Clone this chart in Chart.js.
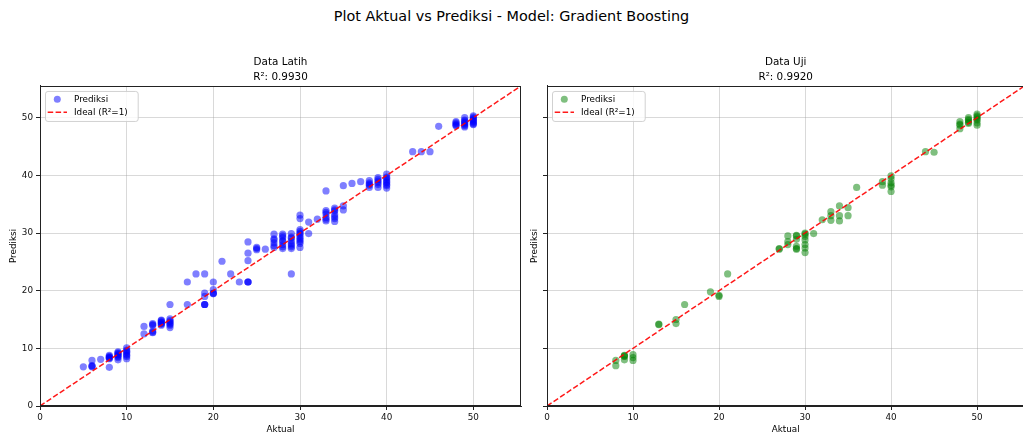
<!DOCTYPE html>
<html>
<head>
<meta charset="utf-8">
<script src="https://cdn.jsdelivr.net/npm/chart.js@4.4.0/dist/chart.umd.min.js"></script>
<style>
html,body{margin:0;padding:0;width:1023px;height:437px;overflow:hidden;background:#fff;}
#suptitle{position:absolute;left:0;top:8px;width:1023px;text-align:center;font-family:"DejaVu Sans";font-size:14.4px;color:#000;line-height:17px;}
#c1{position:absolute;left:0;top:0;}
#c2{position:absolute;left:527px;top:0;}
</style>
</head>
<body>
<div id="suptitle">Plot Aktual vs Prediksi - Model: Gradient Boosting</div>
<canvas id="c1" width="526" height="437"></canvas>
<canvas id="c2" width="501" height="437"></canvas>
<script>
// ---- Data ----
const trainActual = [
  5,
  6,6,6,6,
  7,
  8,8,8,8,8,8,8,
  9,9,9,9,9,9,9,9,
  10,10,10,10,10,10,10,10,
  12,12,
  13,13,13,13,13,13,
  14,14,14,14,14,14,14,
  15,15,15,15,15,15,15,15,
  17,17,
  18,
  19,19,19,19,19,19,
  20,20,20,20,20,
  21,22,23,
  24,24,24,24,24,24,
  25,25,25,26,
  27,27,27,27,27,27,
  28,28,28,28,28,28,28,28,
  29,29,29,29,29,29,29,29,29,
  30,30,30,30,30,30,30,30,30,30,30,30,
  31,31,32,
  33,33,33,33,33,33,33,
  34,34,34,34,34,34,34,
  35,35,35,
  36,37,
  38,38,38,38,38,
  39,39,39,39,39,39,
  40,40,40,40,40,40,40,40,40,
  43,44,45,46,
  48,48,48,48,48,
  49,49,49,49,49,49,49,49,
  50,50,50,50,50,50,50,50,50
];
const trainPred = [
  6.8,
  7.9,6.8,7.0,6.9,
  8.1,
  6.7,8.2,8.5,8.8,8.4,8.6,8.3,
  8.0,8.4,8.8,9.1,9.4,8.6,9.2,8.9,
  8.2,8.6,9.0,9.3,9.7,10.1,9.5,8.8,
  13.8,12.5,
  12.7,13.0,14.0,14.3,14.1,12.8,
  14.0,14.3,14.6,14.9,14.5,14.2,14.8,
  13.6,14.0,14.4,14.8,15.1,17.6,14.6,14.2,
  21.5,17.6,
  22.9,
  22.9,19.6,19.0,17.6,17.6,17.6,
  21.5,20.2,19.5,19.6,19.5,
  25.1,22.9,21.5,
  21.5,21.5,25.2,26.5,28.45,21.5,
  27.5,27.1,27.3,27.2,
  29.8,29.0,28.3,27.5,28.8,27.8,
  29.8,29.2,28.5,28.0,27.3,28.7,27.6,29.5,
  29.9,29.3,28.6,27.9,27.3,22.9,29.1,28.2,27.6,
  33.1,32.5,30.6,30.0,29.4,28.8,28.2,27.5,29.8,29.1,28.5,30.3,
  31.9,29.9,32.4,
  37.3,33.9,33.3,32.7,32.1,33.6,32.4,
  34.3,33.8,33.2,32.5,32.0,34.0,32.8,
  38.2,34.7,34.0,
  38.6,38.9,
  39.1,38.7,38.3,37.9,38.5,
  39.6,39.0,38.4,37.9,39.3,38.7,
  40.2,39.7,39.2,38.7,38.2,37.8,39.5,38.9,38.4,
  44.1,44.1,44.1,48.5,
  49.3,48.9,48.6,49.1,48.7,
  50.0,49.6,49.2,48.8,48.4,49.4,49.0,48.6,
  50.3,49.9,49.5,49.1,48.8,50.1,49.7,49.3,48.9
];
const testActual = [
  8,8,
  9,9,9,9,
  10,10,10,
  13,13,
  15,15,
  16,19,
  20,20,
  21,
  27,27,
  28,28,28,
  29,29,29,29,29,29,
  30,30,30,30,30,30,30,
  31,32,
  33,33,33,
  34,34,34,
  35,35,
  36,
  39,39,
  40,40,40,40,40,40,
  44,45,
  48,48,48,48,
  49,49,49,49,49,
  50,50,50,50,50,50,50
];
const testPred = [
  7.9,7.0,
  8.8,8.6,8.0,8.7,
  8.9,8.4,7.9,
  14.2,14.1,
  15.0,14.3,
  17.6,19.8,
  19.2,19.0,
  22.9,
  27.2,27.3,
  29.5,28.5,28.0,
  29.6,28.9,27.7,27.2,27.3,29.5,
  30.0,29.4,28.8,28.0,27.4,26.6,29.8,
  29.9,32.3,
  33.7,33.0,32.2,
  34.7,33.0,32.1,
  34.4,33.0,
  37.9,
  38.9,38.3,
  39.9,39.4,38.7,38.0,37.2,38.3,
  44.1,44.0,
  49.3,48.7,48.1,48.9,
  50.0,49.5,49.0,49.7,49.2,
  50.6,50.1,49.6,49.1,48.7,50.3,49.8
];
const idealLine = [0, 60];
const axisMin = 0, axisMax = 55.5;
const tickStep = 10;
const panelTitles = ["Data Latih", "Data Uji"];
const r2Labels = ["R²: 0.9930", "R²: 0.9920"];
const xLabel = "Aktual";
const yLabel = "Prediksi";
const scatterLabel = "Prediksi";
const idealLabel = "Ideal (R²=1)";

// ---- Drawing ----
const FONT = "DejaVu Sans";
const GRID = "rgba(160,160,160,0.4)";
const SPINE = "#222";

const framePlugin = {
  id: 'frameAndLegend',
  afterDraw(chart) {
    const ca = chart.chartArea, ctx = chart.ctx;
    ctx.save();
    ctx.strokeStyle = SPINE; ctx.lineWidth = 1;
    ctx.strokeRect(Math.round(ca.left) + 0.5, Math.round(ca.top) + 0.5,
                   Math.round(ca.right - ca.left) - 1, Math.round(ca.bottom - ca.top) - 1);
    // legend inside chart area (upper left)
    const dsPts = chart.data.datasets[1];
    const dsLine = chart.data.datasets[0];
    ctx.font = "8.8px '" + FONT + "'";
    const tw = Math.max(ctx.measureText(dsPts.label).width, ctx.measureText(dsLine.label).width);
    const bx = ca.left + 5, by = ca.top + 5, bh = 30, bw = 34 + tw + 5;
    ctx.beginPath();
    ctx.roundRect(bx + 0.5, by + 0.5, bw, bh, 2.5);
    ctx.fillStyle = 'rgba(255,255,255,0.8)';
    ctx.fill();
    ctx.strokeStyle = 'rgba(204,204,204,0.9)';
    ctx.stroke();
    ctx.beginPath();
    ctx.arc(ca.left + 17.3, ca.top + 13.3, 3.5, 0, Math.PI * 2);
    ctx.fillStyle = dsPts.backgroundColor;
    ctx.fill();
    ctx.beginPath();
    ctx.setLineDash(dsLine.borderDash);
    ctx.strokeStyle = dsLine.borderColor;
    ctx.lineWidth = dsLine.borderWidth;
    ctx.moveTo(ca.left + 7.7, ca.top + 26.3);
    ctx.lineTo(ca.left + 27, ca.top + 26.3);
    ctx.stroke();
    ctx.setLineDash([]);
    ctx.fillStyle = '#000';
    ctx.textBaseline = 'middle';
    ctx.textAlign = 'left';
    ctx.fillText(dsPts.label, ca.left + 34, ca.top + 13.3);
    ctx.fillText(dsLine.label, ca.left + 34, ca.top + 26.3);
    ctx.restore();
  }
};

function makeChart(id, actual, pred, color, idx, yWidth, yTitlePad, showYLabels, padRight) {
  const pts = actual.map((a, i) => ({x: a, y: pred[i]}));
  const line = idealLine.map(v => ({x: v, y: v}));
  const axisCommon = (title, fitFn, titlePad) => ({
    type: 'linear',
    min: axisMin, max: axisMax,
    ticks: {stepSize: tickStep, includeBounds: false, font: {family: FONT, size: 8.8}, color: '#111', padding: 3},
    grid: {color: GRID, lineWidth: 1, tickColor: SPINE, tickLength: 4},
    border: {display: true, color: SPINE, width: 1},
    title: {display: true, text: title, font: {family: FONT, size: 8.8}, color: '#000', padding: titlePad},
    afterFit: fitFn
  });
  const xAxis = axisCommon(xLabel, s => { s.height = 31; }, {top: 0, bottom: 2});
  const yAxis = axisCommon(yLabel, s => { s.width = yWidth; }, {top: yTitlePad, bottom: 0});
  xAxis.ticks.padding = 2;
  if (!showYLabels) yAxis.ticks.callback = () => '';
  return new Chart(document.getElementById(id), {
    type: 'scatter',
    data: {
      datasets: [
        {type: 'line', label: idealLabel, data: line, borderColor: 'rgba(255,0,0,0.9)', borderWidth: 1.5,
         borderDash: [5.5, 2.4], pointRadius: 0, fill: false, showLine: true, order: 0},
        {label: scatterLabel, data: pts, backgroundColor: color, borderWidth: 0,
         pointRadius: 3.6, pointHoverRadius: 3.6, order: 1}
      ]
    },
    options: {
      responsive: false,
      animation: false,
      events: [],
      layout: {padding: {left: 0, right: padRight, top: 0, bottom: 0}},
      plugins: {
        legend: {display: false},
        tooltip: {enabled: false},
        title: {
          display: true, fullSize: false,
          text: [panelTitles[idx], r2Labels[idx]],
          font: {family: FONT, size: 10.4, weight: 'normal', lineHeight: 1.45},
          color: '#000',
          padding: {top: 54.5, bottom: 1.3}
        }
      },
      scales: {x: xAxis, y: yAxis}
    },
    plugins: [framePlugin]
  });
}

makeChart('c1', trainActual, trainPred, 'rgba(0,0,255,0.5)', 0, 40, 8.7, true, 5);
makeChart('c2', testActual, testPred, 'rgba(0,128,0,0.5)', 1, 20, 2.7, false, 0);
</script>
</body>
</html>
